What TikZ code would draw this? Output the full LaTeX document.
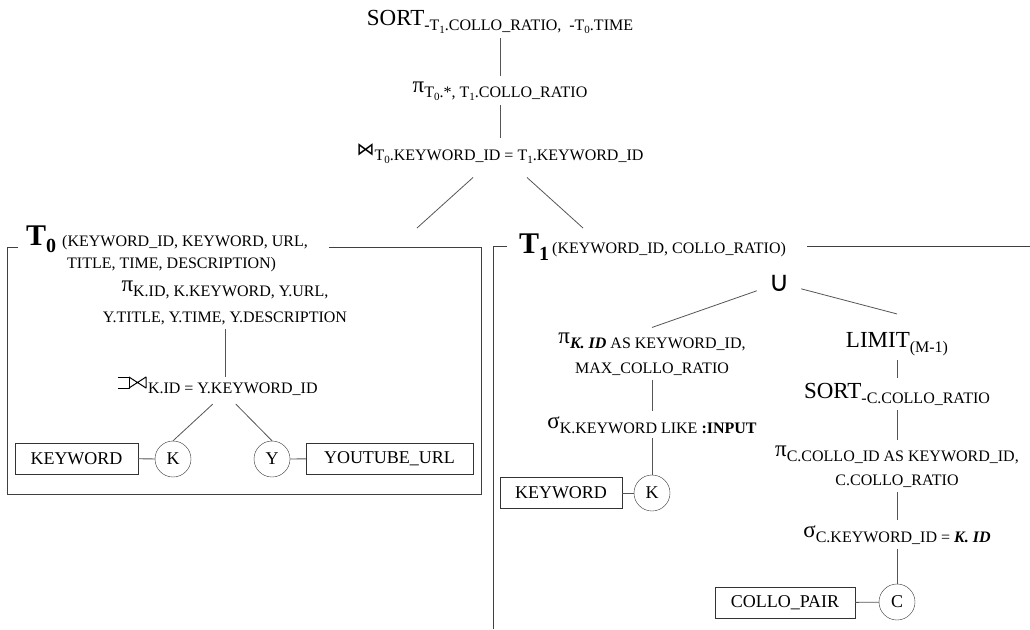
\documentclass[tikz,border=0pt]{standalone}
\usepackage{fontspec}
\setmainfont{Liberation Serif}
\newfontfamily\symfont{DejaVu Sans}
\usepackage{tikz}
\usetikzlibrary{calc,positioning}
\definecolor{wire}{RGB}{85,85,85}
\newcommand{\sbs}[1]{\raisebox{-5pt}{\fontsize{16}{19}\selectfont #1}}
\newcommand{\tsb}[1]{\raisebox{-3pt}{\fontsize{11}{13}\selectfont #1}}
\newcommand{\kid}{\textbf{\textit{K. ID}}}
\newcommand{\lnsz}{\fontsize{16}{19}\selectfont}

\begin{document}
\begin{tikzpicture}[x=1pt,y=-1pt,
     op/.style={font=\fontsize{23}{26}\selectfont,inner sep=0pt,outer sep=5pt,anchor=base,align=center},
     sm/.style={font=\fontsize{16}{22}\selectfont,inner sep=0pt,anchor=base west,align=left},
     big/.style={font=\fontsize{30}{34}\selectfont\bfseries,inner sep=0pt,anchor=base west},
     tb/.style={draw=black!80,font=\fontsize{18}{20}\selectfont,inner sep=0pt,minimum height=31pt},
     rc/.style={circle,draw=black!80,font=\fontsize{18}{20}\selectfont,inner sep=0pt,minimum size=36pt},
     ln/.style={draw=wire,line width=0.8pt},
     fr/.style={draw=black!75,line width=0.9pt},
     glyph/.style={line width=1pt,line join=round}]
   \useasboundingbox (0,0) rectangle (1030,629);
   % top of the plan
   \node[op] (sort0) at (500,25) {SORT\sbs{-T\tsb{1}.COLLO\_RATIO,\ \ -T\tsb{0}.TIME}};
   \node[op] (proj0) at (500,92) {π\sbs{T\tsb{0}.*, T\tsb{1}.COLLO\_RATIO}};
   \node[op] (join0) at (500,155) {{\symfont\fontsize{18}{20}\selectfont ⋈}\sbs{T\tsb{0}.KEYWORD\_ID = T\tsb{1}.KEYWORD\_ID}};
   \coordinate (t0top) at (417,228); \coordinate (t1top) at (583,228);
   % T0
   \draw[fr] (18,247) -- (7,247) -- (7,494) -- (481,494) -- (481,247) -- (329,247);
   \node[big] (t0) at (26,245) {T\raisebox{-7pt}{\fontsize{20}{24}\selectfont 0}};
   \node[sm] (t0attr) at (62,268) {(KEYWORD\_ID, KEYWORD, URL,\\\hspace{5pt}TITLE, TIME, DESCRIPTION)};
   \node[op] (proj1) at (225,322) {π\sbs{K.ID, K.KEYWORD, Y.URL,}\\[5pt]{\lnsz Y.TITLE, Y.TIME, Y.DESCRIPTION}};
   % left outer join sign (no font has it)
   \draw[glyph] (118,377) -- (129,377) -- (129,388) -- (118,388);
   \draw[glyph] (129,377) -- (146,388) -- (146,377) -- (129,388);
   \node[op,anchor=base west] (ojoin) at (143,388) {\sbs{K.ID = Y.KEYWORD\_ID}};
   \node[tb,minimum width=123pt] (kw0) at (76.5,458.5) {KEYWORD};
   \node[rc] (k0) at (173,459) {K}; \node[rc] (y0) at (272,459) {Y};
   \node[tb,minimum width=167pt] (yt) at (389.5,458.5) {YOUTUBE\_URL};
   % T1
   \draw[fr] (507,246) -- (493,246) -- (493,629); \draw[fr] (807,246) -- (1030,246);
   \node[big] (t1) at (519,253) {T\raisebox{-7pt}{\fontsize{20}{24}\selectfont 1}};
   \node[sm] (t1attr) at (552,253) {(KEYWORD\_ID, COLLO\_RATIO)};
   \node[op,anchor=center,font=\symfont\fontsize{28}{30}\selectfont,outer sep=12pt] (cup) at (779,283) {∪};
   \node[op] (projL) at (652,373) {π\sbs{\kid{} AS KEYWORD\_ID,}\\[4pt]{\lnsz MAX\_COLLO\_RATIO}};
   \node[op] (selL) at (652,428) {σ\sbs{K.KEYWORD LIKE \textbf{:INPUT}}};
   \node[tb,minimum width=122pt] (kw1) at (561,493) {KEYWORD};
   \node[rc] (k1) at (652,493) {K};
   \node[op] (limit) at (897,347) {LIMIT\sbs{(M-1)}};
   \node[op] (sort1) at (897,398) {SORT\sbs{-C.COLLO\_RATIO}};
   \node[op] (projR) at (897,485) {π\sbs{C.COLLO\_ID AS KEYWORD\_ID,}\\[3pt]{\lnsz C.COLLO\_RATIO}};
   \node[op] (selR) at (897,537) {σ\sbs{C.KEYWORD\_ID = \kid}};
   \node[tb,minimum width=140pt] (cp) at (785,603) {COLLO\_PAIR};
   \node[rc] (c) at (897,602) {C};
   % connectors
   \draw[ln] (sort0) -- (proj0); \draw[ln] (proj0) -- (join0);
   \draw[ln,shorten <=14pt] (join0) -- (t0top); \draw[ln,shorten <=14pt] (join0) -- (t1top);
   \draw[ln] (proj1) -- (proj1 |- ojoin.north);
   \draw[ln] ([xshift=-20pt,yshift=-4pt]ojoin.south) -- (k0.north);
   \draw[ln] ([xshift=3pt,yshift=-4pt]ojoin.south) -- (y0.north);
   \draw[ln] (kw0) -- (k0); \draw[ln] (y0) -- (yt);
   \draw[ln] (cup) -- (projL.north); \draw[ln] (cup) -- ([yshift=13pt]limit.north);
   \draw[ln] (projL) -- (selL); \draw[ln] (selL) -- (k1); \draw[ln] (kw1) -- (k1);
   \draw[ln] (limit) -- (sort1); \draw[ln] (sort1) -- (projR); \draw[ln] (projR) -- (selR);
   \draw[ln] (selR) -- (c); \draw[ln] (cp) -- (c);
\end{tikzpicture}
\end{document}
